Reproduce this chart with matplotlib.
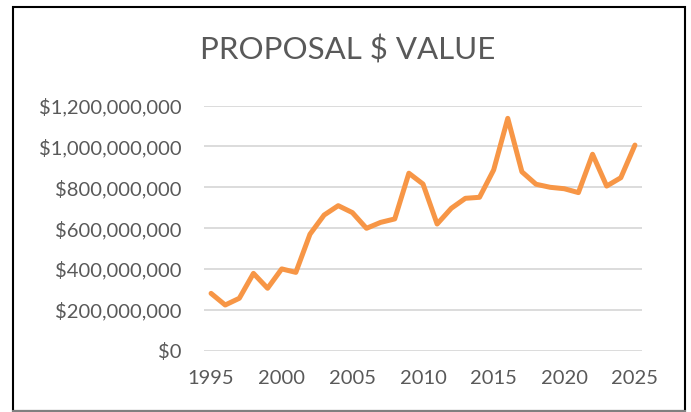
import matplotlib
matplotlib.use("Agg")
import matplotlib.pyplot as plt
from matplotlib.patches import Rectangle
from matplotlib.ticker import FuncFormatter

# proposal values by year
years = list(range(1995, 2026))
values = [280e6, 223e6, 256e6, 378e6, 305e6, 400e6, 383e6, 570e6, 664e6, 710e6,
          676e6, 599e6, 628e6, 645e6, 869e6, 816e6, 620e6, 697e6, 746e6, 751e6,
          885e6, 1138e6, 876e6, 815e6, 800e6, 793e6, 774e6, 962e6, 806e6, 847e6,
          1007e6]
year_ticks = [1995, 2000, 2005, 2010, 2015, 2020, 2025]
value_ticks = [0, 200e6, 400e6, 600e6, 800e6, 1000e6, 1200e6]

plt.rcParams['font.family'] = ['Lato', 'DejaVu Sans']
grey = '#595959'

fig = plt.figure(figsize=(6.91, 4.12), dpi=100)
ax = fig.add_axes([204/691, 1 - 350.5/412, (642-204)/691, (350.5-105.7)/412])

ax.plot(years, values, color='#F79646', lw=3.6, solid_joinstyle='round',
        solid_capstyle='round', zorder=3)

ax.set_xlim(1994.5, 2025.5)
ax.set_ylim(0, 1.2e9)
ax.set_xticks(year_ticks)
ax.set_yticks(value_ticks)
ax.yaxis.set_major_formatter(FuncFormatter(lambda v, p: '${:,.0f}'.format(v)))
ax.grid(axis='y', color='#D9D9D9', lw=1.3)
ax.set_axisbelow(True)
for s in ax.spines.values():
    s.set_visible(False)
ax.tick_params(length=0, labelsize=14.5, labelcolor=grey)
ax.tick_params(axis='y', pad=16)
ax.tick_params(axis='x', pad=14)

fig.text(348/691, 1 - 50/412, 'PROPOSAL $ VALUE', ha='center', va='center',
         fontsize=22.5, color=grey)

# chart border: black on three sides, grey along the bottom
fig.patches.append(Rectangle((12.5/691, 0.6/412), (685-12.5)/691, (405.5-0.6)/412,
                             transform=fig.transFigure, fill=False,
                             edgecolor='black', lw=1.5))
fig.add_artist(plt.Line2D([12.5/691, 685/691], [0.6/412, 0.6/412],
                          transform=fig.transFigure, color='#808080', lw=1.5))

fig.savefig('out.png', dpi=100)
